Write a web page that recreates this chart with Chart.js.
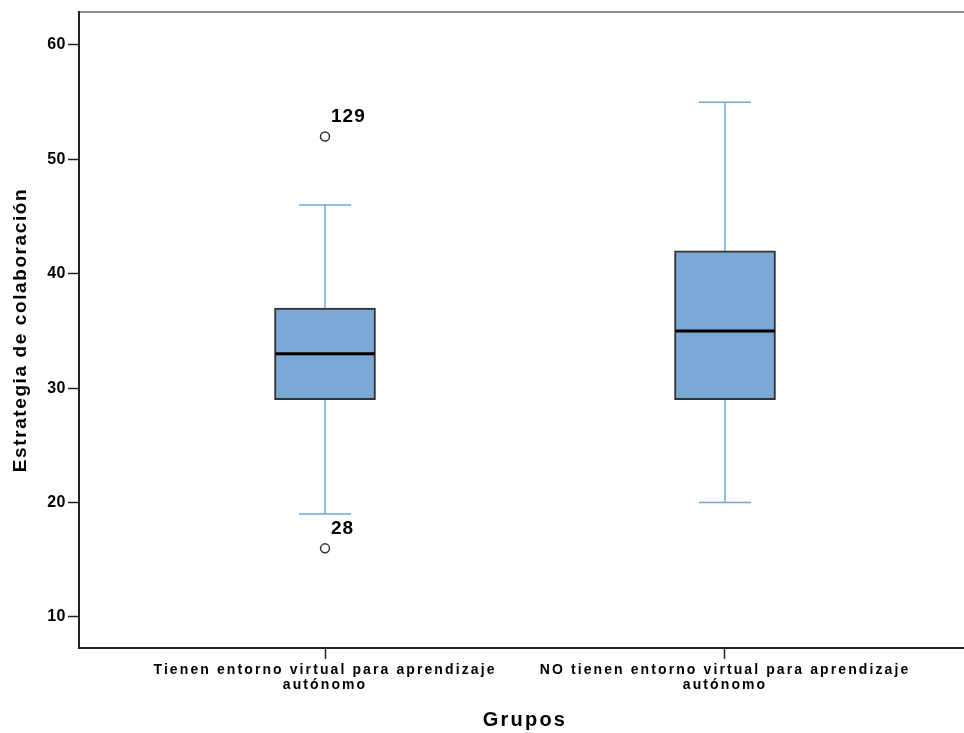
<!DOCTYPE html>
<html>
<head>
<meta charset="utf-8">
<script src="https://cdn.jsdelivr.net/npm/chart.js@4"></script>
<style>
  html, body { margin: 0; padding: 0; background: #fff; overflow: hidden; }
  #wrap { width: 977px; height: 733px; }
</style>
</head>
<body>
<div id="wrap"><canvas id="caja"></canvas></div>
<script>
// datos
const grupos = [
  ['Tienen entorno virtual para aprendizaje', 'autónomo'],
  ['NO tienen entorno virtual para aprendizaje', 'autónomo']
]
const bigoteInf = [19, 20]
const q1 = [29, 29]
const mediana = [33, 35]
const q3 = [37, 42]
const bigoteSup = [46, 55]
const atipGrupo = [0, 0]
const atipValor = [52, 16]
const atipCaso = ['129', '28']
const yTicks = [10, 20, 30, 40, 50, 60]

const fuente = "'Liberation Sans', Arial, sans-serif"
const azulBigote = '#72a8dc'

// SPSS deja los textos espaciados, cada parte con su espaciado
const espaciar = (obj, metodo, esp) => {
  const orig = obj[metodo]
  obj[metodo] = function (...args) {
    const ctx = this.ctx
    const antes = ctx.letterSpacing
    ctx.letterSpacing = esp
    orig.apply(this, args)
    ctx.letterSpacing = antes
  }
}
const espaciado = {
  id: 'espaciado',
  beforeDraw(chart) {
    const {x, y} = chart.scales
    if (x._espaciado) return
    espaciar(x, 'drawLabels', '2.1px')
    espaciar(x, 'drawTitle', '2.2px')
    espaciar(y, 'drawLabels', '0.5px')
    espaciar(y, 'drawTitle', '1.6px')
    x._espaciado = true
  }
}

const extrasCaja = {
  id: 'extrasCaja',
  beforeDraw(chart) {
    const {ctx, chartArea: a} = chart
    ctx.save()
    ctx.strokeStyle = '#8a8a8a'
    ctx.lineWidth = 2
    ctx.beginPath()
    ctx.moveTo(a.left, a.top)
    ctx.lineTo(a.right, a.top)
    ctx.stroke()
    ctx.restore()
  },
  beforeDatasetsDraw(chart) {
    const {ctx, scales: {x, y}} = chart
    const medioCap = 26
    ctx.save()
    ctx.strokeStyle = azulBigote
    ctx.lineWidth = 1.5
    grupos.forEach((g, i) => {
      const px = x.getPixelForValue(i + 1)
      const yLo = y.getPixelForValue(bigoteInf[i])
      const yHi = y.getPixelForValue(bigoteSup[i])
      ctx.beginPath()
      ctx.moveTo(px, yLo); ctx.lineTo(px, y.getPixelForValue(q1[i]))
      ctx.moveTo(px, y.getPixelForValue(q3[i])); ctx.lineTo(px, yHi)
      ctx.moveTo(px - medioCap, yLo); ctx.lineTo(px + medioCap, yLo)
      ctx.moveTo(px - medioCap, yHi); ctx.lineTo(px + medioCap, yHi)
      ctx.stroke()
    })
    ctx.restore()
  },
  afterDatasetsDraw(chart) {
    const {ctx, scales: {y}} = chart
    const cajas = chart.getDatasetMeta(0).data
    ctx.save()
    ctx.strokeStyle = '#000'
    ctx.lineWidth = 3
    cajas.forEach((el, i) => {
      const py = y.getPixelForValue(mediana[i])
      ctx.beginPath()
      ctx.moveTo(el.x - el.width / 2 + 1, py)
      ctx.lineTo(el.x + el.width / 2 - 1, py)
      ctx.stroke()
    })
    const puntos = chart.getDatasetMeta(1).data
    ctx.fillStyle = '#000'
    ctx.font = 'bold 19px ' + fuente
    ctx.textAlign = 'left'
    ctx.textBaseline = 'middle'
    ctx.letterSpacing = '1px'
    puntos.forEach((p, i) => {
      ctx.fillText(atipCaso[i], p.x + 6, p.y - 20)
    })
    ctx.restore()
  }
}

new Chart(document.getElementById('caja'), {
  type: 'bar',
  data: {
    datasets: [{
      label: 'Caja',
      data: grupos.map((g, i) => ({x: i + 1, y: [q1[i], q3[i]]})),
      backgroundColor: '#7aa8d5',
      borderColor: '#333',
      borderWidth: 2,
      borderSkipped: false,
      barThickness: 101
    }, {
      type: 'scatter',
      label: 'Atípicos',
      data: atipValor.map((v, i) => ({x: atipGrupo[i] + 1, y: v})),
      pointRadius: 4.5,
      pointBorderWidth: 1.5,
      pointBackgroundColor: '#fff',
      pointBorderColor: '#333'
    }]
  },
  options: {
    responsive: true,
    maintainAspectRatio: false,
    animation: false,
    events: [],
    layout: { padding: { top: 12, right: 0, left: 0, bottom: 0 } },
    scales: {
      x: {
        type: 'linear',
        offset: false,
        min: 0.385,
        max: 2.615,
        afterBuildTicks: s => { s.ticks = grupos.map((g, i) => ({value: i + 1})) },
        afterFit: s => { s.height = 85 },
        ticks: {
          color: '#000',
          padding: 4,
          maxRotation: 0,
          autoSkip: false,
          font: { family: fuente, size: 14, weight: 'bold', lineHeight: 1.05 },
          callback: (v, i) => grupos[i]
        },
        grid: { offset: false, drawOnChartArea: false, tickLength: 11, tickColor: '#222', tickWidth: 1.5 },
        border: { color: '#222', width: 2 },
        title: {
          display: true,
          text: 'Grupos',
          color: '#000',
          padding: { top: 0, bottom: 1 },
          font: { family: fuente, size: 20, weight: 'bold' }
        }
      },
      y: {
        min: 7.29,
        max: 62.88,
        afterBuildTicks: s => { s.ticks = yTicks.map(v => ({value: v})) },
        afterFit: s => { s.width = 79 },
        ticks: {
          color: '#000',
          padding: 2,
          font: { family: fuente, size: 16, weight: 'bold' }
        },
        grid: { drawOnChartArea: false, tickLength: 11, tickColor: '#222', tickWidth: 1.5 },
        border: { color: '#222', width: 2 },
        title: {
          display: true,
          text: 'Estrategia de colaboración',
          color: '#000',
          padding: { top: 9, bottom: 0 },
          font: { family: fuente, size: 19, weight: 'bold' }
        }
      }
    },
    plugins: {
      legend: { display: false },
      tooltip: { enabled: false }
    }
  },
  plugins: [espaciado, extrasCaja]
})
</script>
</body>
</html>
